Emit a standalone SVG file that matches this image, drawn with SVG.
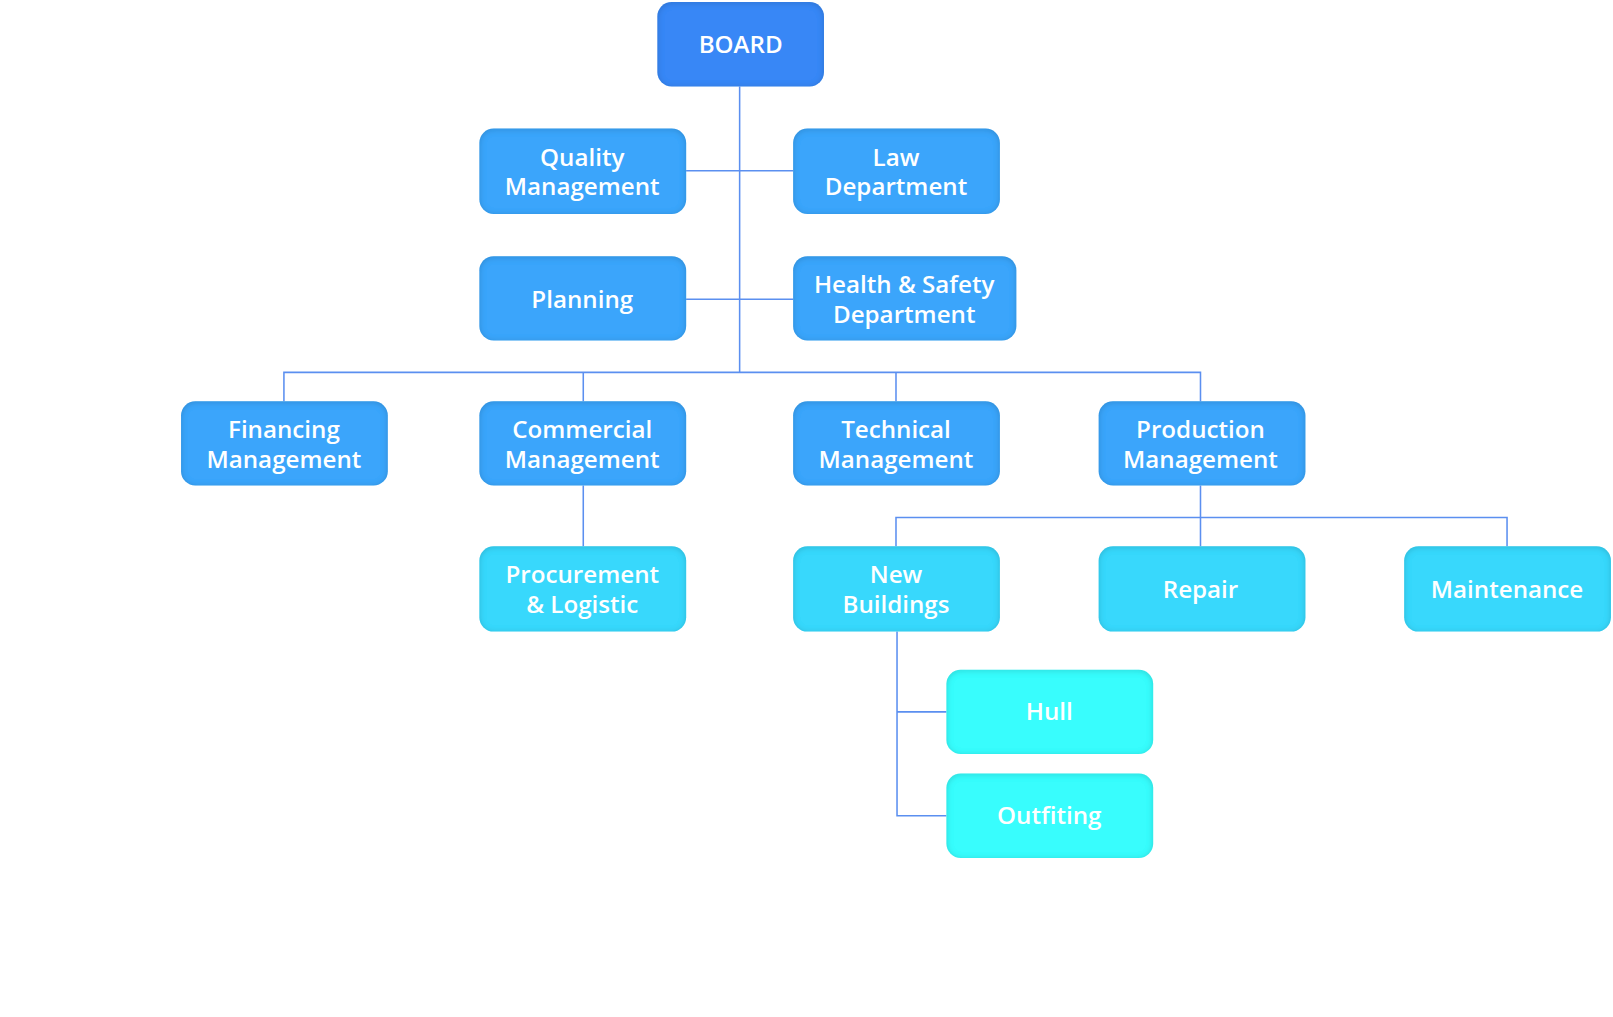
<svg xmlns="http://www.w3.org/2000/svg" width="1613" height="1017" viewBox="0 0 1613 1017">
<style>
text{font-family:"Open Sans","Noto Sans",sans-serif;font-weight:600;font-size:23.5px;fill:#fff;text-anchor:middle}
.c{stroke:#5b8ff0;stroke-width:1.5;fill:none}
.n rect{filter:url(#inset)}
.l1 rect{fill:#3887f6}
.l2 rect{fill:#3aa5fb}
.l3 rect{fill:#38d8fc}
.l4 rect{fill:#38fdfd}
</style>
<defs>
<filter id="inset" x="-5%" y="-5%" width="110%" height="110%">
<feComponentTransfer in="SourceAlpha" result="inv"><feFuncA type="table" tableValues="1 0"/></feComponentTransfer>
<feGaussianBlur in="inv" stdDeviation="3" result="b"/>
<feOffset dy="1" result="o"/>
<feFlood flood-color="#000" flood-opacity="0.35"/>
<feComposite in2="o" operator="in"/>
<feComposite in2="SourceAlpha" operator="in" result="s"/>
<feMerge><feMergeNode in="SourceGraphic"/><feMergeNode in="s"/></feMerge>
</filter>
</defs>
<g transform="scale(1.0287)">
<g id="connectors" class="c">
<path d="M719 84V362M667 166H771M667 291H771M276 390V362H1167V390M567 362V390M871 362V390"/>
<path d="M567 472V531M1167 472V531M871 531V503H1465V531"/>
<path d="M872 614V793H920M872 692H920"/>
</g>
<g id="board" class="n l1"><rect x="639" y="2" width="162" height="82" rx="14"/><text x="720" y="52">BOARD</text></g>
<g id="quality" class="n l2"><rect x="466" y="125" width="201" height="83" rx="14"/><text x="566" y="161">Quality</text><text x="566" y="190">Management</text></g>
<g id="law" class="n l2"><rect x="771" y="125" width="201" height="83" rx="14"/><text x="871" y="161">Law</text><text x="871" y="190">Department</text></g>
<g id="planning" class="n l2"><rect x="466" y="249" width="201" height="82" rx="14"/><text x="566" y="299">Planning</text></g>
<g id="health" class="n l2"><rect x="771" y="249" width="217" height="82" rx="14"/><text x="879" y="285">Health &amp; Safety</text><text x="879" y="314">Department</text></g>
<g id="financing" class="n l2"><rect x="176" y="390" width="201" height="82" rx="14"/><text x="276" y="426">Financing</text><text x="276" y="455">Management</text></g>
<g id="commercial" class="n l2"><rect x="466" y="390" width="201" height="82" rx="14"/><text x="566" y="426">Commercial</text><text x="566" y="455">Management</text></g>
<g id="technical" class="n l2"><rect x="771" y="390" width="201" height="82" rx="14"/><text x="871" y="426">Technical</text><text x="871" y="455">Management</text></g>
<g id="production" class="n l2"><rect x="1068" y="390" width="201" height="82" rx="14"/><text x="1167" y="426">Production</text><text x="1167" y="455">Management</text></g>
<g id="procurement" class="n l3"><rect x="466" y="531" width="201" height="83" rx="14"/><text x="566" y="567">Procurement</text><text x="566" y="596">&amp; Logistic</text></g>
<g id="newbuildings" class="n l3"><rect x="771" y="531" width="201" height="83" rx="14"/><text x="871" y="567">New</text><text x="871" y="596">Buildings</text></g>
<g id="repair" class="n l3"><rect x="1068" y="531" width="201" height="83" rx="14"/><text x="1167" y="581">Repair</text></g>
<g id="maintenance" class="n l3"><rect x="1365" y="531" width="201" height="83" rx="14"/><text x="1465" y="581">Maintenance</text></g>
<g id="hull" class="n l4"><rect x="920" y="651" width="201" height="82" rx="14"/><text x="1020" y="700">Hull</text></g>
<g id="outfiting" class="n l4"><rect x="920" y="752" width="201" height="82" rx="14"/><text x="1020" y="801">Outfiting</text></g>
</g>
</svg>
